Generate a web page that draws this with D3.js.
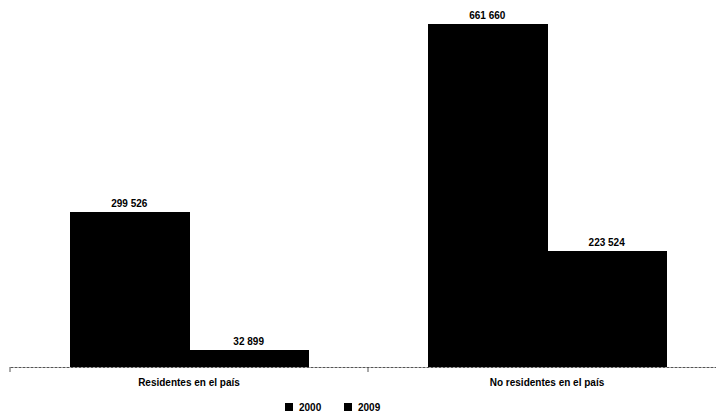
<!DOCTYPE html>
<html><head><meta charset="utf-8">
<script src="https://cdn.jsdelivr.net/npm/d3@7"></script>
<style>body{margin:0;background:#fff}svg{display:block}text{font-family:"Liberation Sans",Arial,sans-serif;font-weight:bold;fill:#000}</style>
</head><body>
<script>
const categories = ["Residentes en el país", "No residentes en el país"];
const seriesNames = ["2000", "2009"];
const values2000 = [299526, 661660];
const values2009 = [32899, 223524];
const labels2000 = ["299 526", "661 660"];
const labels2009 = ["32 899", "223 524"];

const W = 716, H = 418;
const svg = d3.select("body").append("svg").attr("width", W).attr("height", H);
const y0 = 367;
const x = d3.scaleBand().domain(categories).range([10, 726]).paddingInner(1/3).paddingOuter(1/6);
const xs = d3.scaleBand().domain(seriesNames).range([0, x.bandwidth()]);
const y = d3.scaleLinear().domain([0, 661660]).range([y0, 24]);

const data = [];
categories.forEach((c, i) => {
  data.push({c, s: "2000", v: values2000[i], l: labels2000[i]});
  data.push({c, s: "2009", v: values2009[i], l: labels2009[i]});
});

svg.selectAll("rect.bar").data(data).enter().append("rect")
  .attr("class", "bar")
  .attr("x", d => x(d.c) + xs(d.s))
  .attr("width", xs.bandwidth() + 0.5)
  .attr("y", d => y(d.v))
  .attr("height", d => y0 - y(d.v))
  .attr("shape-rendering", "crispEdges")
  .attr("fill", "#000");

svg.selectAll("text.val").data(data).enter().append("text")
  .attr("x", d => x(d.c) + xs(d.s) + xs.bandwidth()/2)
  .attr("y", d => y(d.v) - 5)
  .attr("text-anchor", "middle")
  .attr("font-size", 10)
  .text(d => d.l);

// axis
const axis = d3.axisBottom(x).tickSize(0).tickFormat("");
const g = svg.append("g").attr("transform", `translate(0,${y0})`).call(axis);
g.select(".domain").attr("stroke", "#555").attr("stroke-width", 1).attr("stroke-dasharray", "3,1");
const edges = [10, x.step() + 10];
g.selectAll("line.tk").data(edges).enter().append("line")
  .attr("x1", d => d).attr("x2", d => d).attr("y1", 0).attr("y2", 5)
  .attr("stroke", "#555");

svg.selectAll("text.cat").data(categories).enter().append("text")
  .attr("x", d => x(d) + x.bandwidth()/2)
  .attr("y", 386)
  .attr("text-anchor", "middle")
  .attr("font-size", 10)
  .text(d => d);

// legend
const legX = [285, 344];
seriesNames.forEach((s, i) => {
  svg.append("rect").attr("x", legX[i]).attr("y", 403).attr("width", 8).attr("height", 8).attr("fill", "#000");
  svg.append("text").attr("x", legX[i] + 14).attr("y", 411).attr("font-size", 10).text(s);
});
</script>
</body></html>
